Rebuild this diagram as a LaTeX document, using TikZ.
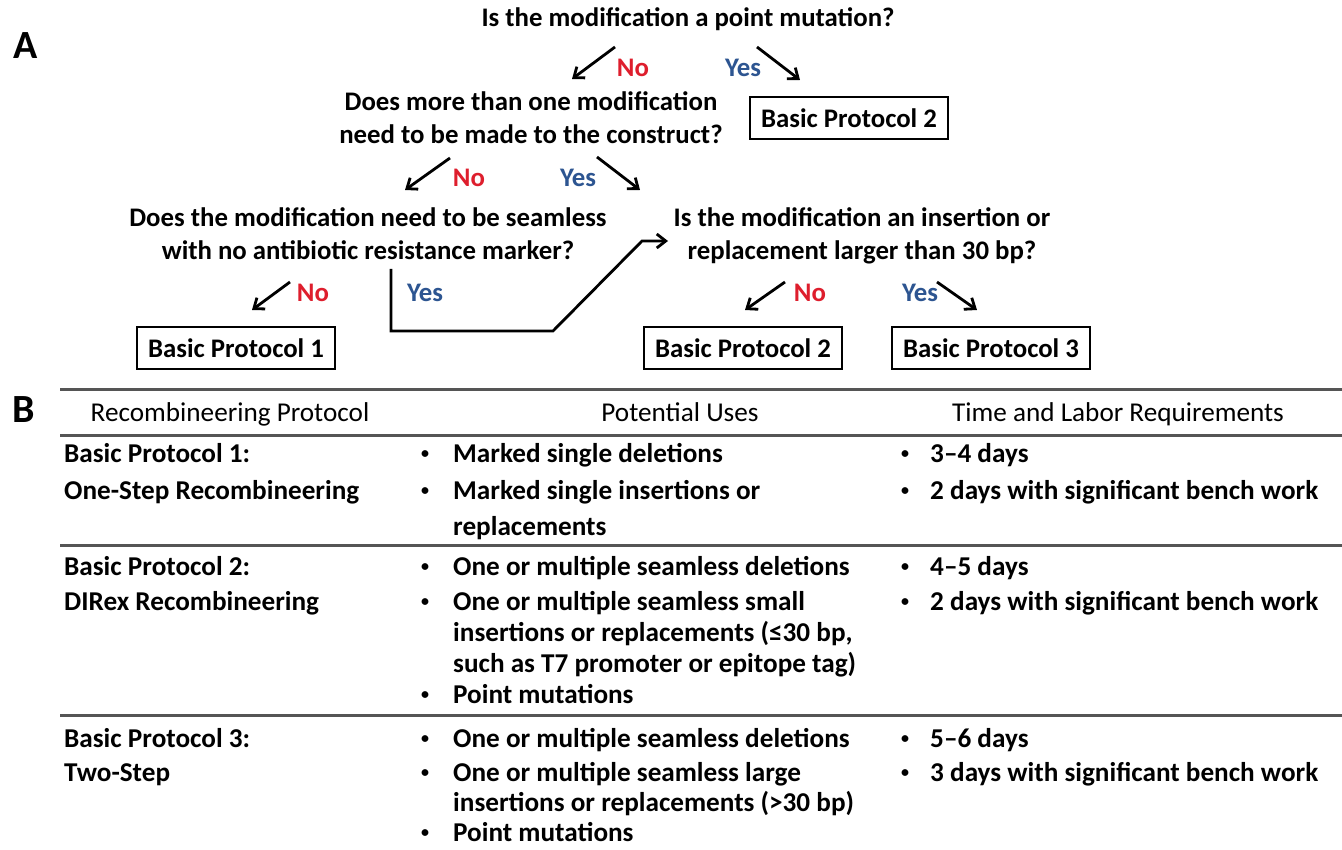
\documentclass[tikz,border=0pt]{standalone}
\usepackage{fontspec}
\setmainfont{Carlito}
\usetikzlibrary{arrows.meta}
\definecolor{nored}{RGB}{222,30,45}
\definecolor{yesblue}{RGB}{45,85,145}
\definecolor{rule}{RGB}{85,85,85}
\begin{document}
\begin{tikzpicture}[x=1pt,y=-1pt,
  q/.style={font=\fontsize{26.8}{33}\selectfont\bfseries, align=center, inner sep=0pt, anchor=base},
  pbox/.style={draw, line width=2.6pt, font=\fontsize{26.8}{30}\selectfont\bfseries, minimum width=198pt, minimum height=42pt, inner sep=0pt},
  nolab/.style={font=\fontsize{26.8}{30}\selectfont\bfseries, text=nored, inner sep=0pt, anchor=base},
  yeslab/.style={font=\fontsize{26.8}{30}\selectfont\bfseries, text=yesblue, inner sep=0pt, anchor=base},
  arr/.style={line width=2.8pt, -{Straight Barb[length=9pt,width=14pt,line width=2.8pt]}},
  hd/.style={font=\fontsize{27.2}{30}\selectfont, inner sep=0pt, anchor=base},
  tb/.style={font=\fontsize{27.2}{30}\selectfont\bfseries, inner sep=0pt, anchor=base west},
  bul/.style={font=\fontsize{16}{20}\selectfont\bfseries, inner sep=0pt, anchor=base},
  trule/.style={line width=3pt, draw=rule},
  panel/.style={font=\fontsize{40}{44}\selectfont\bfseries, inner sep=0pt, anchor=base}
]
\useasboundingbox (0,0) rectangle (1342,850);
\fill[white] (0,0) rectangle (1342,850);

% Panel labels
\node[panel] (A) at (26,59) {A};
\node[panel] (B) at (24,422) {B};

% Panel A
\node[q] (q1) at (688,27) {Is the modification a point mutation?};
\node[q] (q2) at (531,144) {Does more than one modification\\need to be made to the construct?};
\node[pbox] (bp2a) at (849,118) {Basic Protocol 2};
\node[q] (q3) at (368,260) {Does the modification need to be seamless\\with no antibiotic resistance marker?};
\node[q] (q4) at (862,260) {Is the modification an insertion or\\replacement larger than 30 bp?};
\node[pbox] (bp1) at (236,348) {Basic Protocol 1};
\node[pbox] (bp2b) at (743,348) {Basic Protocol 2};
\node[pbox] (bp3) at (991,348) {Basic Protocol 3};

\node[nolab] (n1) at (633,77) {No};
\node[yeslab] (y1) at (743,77) {Yes};
\node[nolab] (n2) at (469,187) {No};
\node[yeslab] (y2) at (578,187) {Yes};
\node[nolab] (n3) at (313,302) {No};
\node[yeslab] (y3) at (425,302) {Yes};
\node[nolab] (n4) at (810,302) {No};
\node[yeslab] (y4) at (920,302) {Yes};

\coordinate (a1s) at (615,47); \coordinate (a1e) at (572,79);
\coordinate (a2s) at (757,47); \coordinate (a2e) at (800,80);
\coordinate (a3s) at (450,158); \coordinate (a3e) at (405,190);
\coordinate (a4s) at (597,157); \coordinate (a4e) at (640,190);
\coordinate (a5s) at (290,282); \coordinate (a5e) at (252,310);
\coordinate (a6s) at (785,282); \coordinate (a6e) at (745,310);
\coordinate (a7s) at (937,282); \coordinate (a7e) at (977,310);
\coordinate (ys) at (391,269); \coordinate (yc) at (553,331);
\coordinate (yd) at (642,241); \coordinate (ye) at (668,241);

\draw[arr] (a1s) -- (a1e);
\draw[arr] (a2s) -- (a2e);
\draw[arr] (a3s) -- (a3e);
\draw[arr] (a4s) -- (a4e);
\draw[arr] (a5s) -- (a5e);
\draw[arr] (a6s) -- (a6e);
\draw[arr] (a7s) -- (a7e);
\draw[arr] (ys) |- (yc) -- (yd) -- (ye);

% Panel B table
\coordinate (r0l) at (60,390); \coordinate (r0r) at (1342,390);
\coordinate (r1l) at (60,435); \coordinate (r1r) at (1342,435);
\coordinate (r2l) at (60,545); \coordinate (r2r) at (1342,545);
\coordinate (r3l) at (60,715); \coordinate (r3r) at (1342,715);
\draw[trule] (r0l) -- (r0r);
\draw[trule] (r1l) -- (r1r);
\draw[trule] (r2l) -- (r2r);
\draw[trule] (r3l) -- (r3r);

\node[hd] (h1) at (230,421) {Recombineering Protocol};
\node[hd] (h2) at (680,421) {Potential Uses};
\node[hd] (h3) at (1118,421) {Time and Labor Requirements};

% Row 1
\node[tb] (p1a) at (64,462) {Basic Protocol 1:};
\node[tb] (p1b) at (64,499) {One-Step Recombineering};
\node[bul] (u1b1) at (425,458) {•};
\node[tb] (u1a) at (453,462) {Marked single deletions};
\node[bul] (u1b2) at (425,495) {•};
\node[tb] (u1b) at (453,499) {Marked single insertions or};
\node[tb] (u1c) at (453,535) {replacements};
\node[bul] (t1b1) at (905,458) {•};
\node[tb] (t1a) at (930,462) {3–4 days};
\node[bul] (t1b2) at (905,495) {•};
\node[tb] (t1b) at (930,499) {2 days with significant bench work};

% Row 2
\node[tb] (p2a) at (64,575) {Basic Protocol 2:};
\node[tb] (p2b) at (64,610) {DIRex Recombineering};
\node[bul] (u2b1) at (425,571) {•};
\node[tb] (u2a) at (453,575) {One or multiple seamless deletions};
\node[bul] (u2b2) at (425,606) {•};
\node[tb] (u2b) at (453,610) {One or multiple seamless small};
\node[tb] (u2c) at (453,641) {insertions or replacements (≤30 bp,};
\node[tb] (u2d) at (453,672) {such as T7 promoter or epitope tag)};
\node[bul] (u2b3) at (425,699) {•};
\node[tb] (u2e) at (453,703) {Point mutations};
\node[bul] (t2b1) at (905,571) {•};
\node[tb] (t2a) at (930,575) {4–5 days};
\node[bul] (t2b2) at (905,606) {•};
\node[tb] (t2b) at (930,610) {2 days with significant bench work};

% Row 3
\node[tb] (p3a) at (64,747) {Basic Protocol 3:};
\node[tb] (p3b) at (64,781) {Two-Step};
\node[bul] (u3b1) at (425,743) {•};
\node[tb] (u3a) at (453,747) {One or multiple seamless deletions};
\node[bul] (u3b2) at (425,777) {•};
\node[tb] (u3b) at (453,781) {One or multiple seamless large};
\node[tb] (u3c) at (453,811) {insertions or replacements (>30 bp)};
\node[bul] (u3b3) at (425,837) {•};
\node[tb] (u3d) at (453,841) {Point mutations};
\node[bul] (t3b1) at (905,743) {•};
\node[tb] (t3a) at (930,747) {5–6 days};
\node[bul] (t3b2) at (905,777) {•};
\node[tb] (t3b) at (930,781) {3 days with significant bench work};
\end{tikzpicture}
\end{document}
